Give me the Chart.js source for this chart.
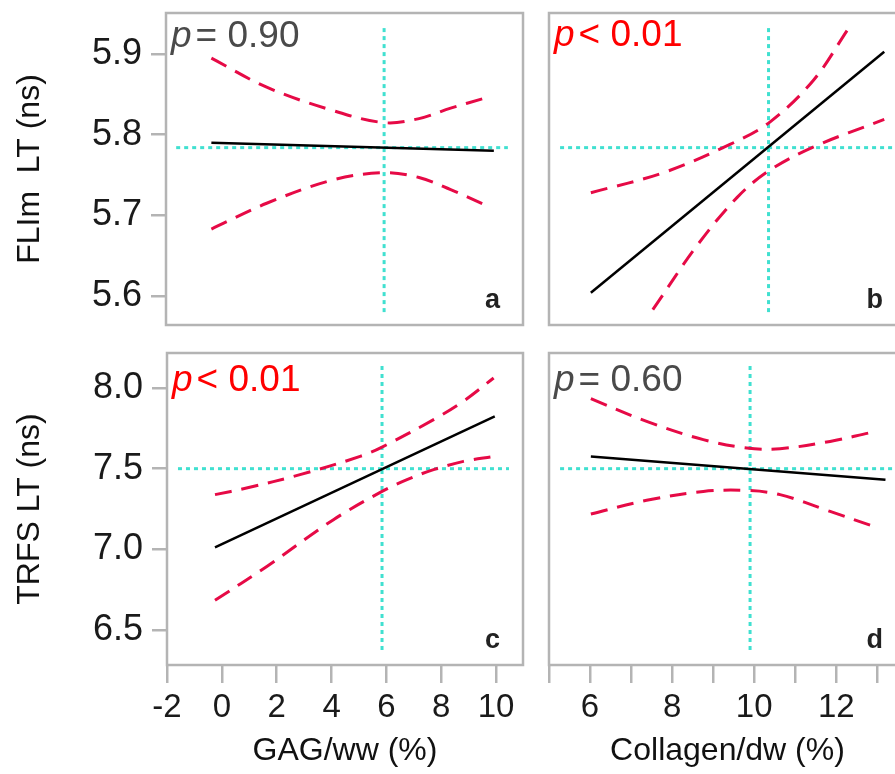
<!DOCTYPE html>
<html>
<head>
<meta charset="utf-8">
<script src="https://cdn.jsdelivr.net/npm/chart.js@4.4.1/dist/chart.umd.min.js"></script>
<style>
html,body{margin:0;padding:0;background:#fff;overflow:hidden}
body{width:895px;height:774px;position:relative}
canvas{position:absolute;left:0;top:0}
</style>
</head>
<body>
<canvas id="cA" width="920" height="774"></canvas>
<canvas id="cB" width="920" height="774"></canvas>
<canvas id="cC" width="920" height="774"></canvas>
<canvas id="cD" width="920" height="774"></canvas>
<script>
// tick labels
var yTicksFlim = [5.6, 5.7, 5.8, 5.9];
var yTicksTrfs = [6.5, 7.0, 7.5, 8.0];
var xTicksGag = [-2, 0, 2, 4, 6, 8, 10];
var xTicksCol = [5, 6, 7, 8, 9, 10, 11, 12, 13];
var xLabelsCol = [6, 8, 10, 12];

// p values
var pOps = ['=', '<', '<', '='];
var pNums = ['0.90', '0.01', '0.01', '0.60'];
var letters = ['a', 'b', 'c', 'd'];

// a : FLIm LT vs GAG/ww
var aFitX = [-0.35, 9.92];
var aFitY = [5.790, 5.780];
var aUpX = [-0.35, 1.66, 4.07, 5.93, 7.2, 8.35, 9.55];
var aUpY = [5.895, 5.859, 5.830, 5.815, 5.820, 5.833, 5.845];
var aLoX = [-0.35, 1.66, 4.07, 5.93, 7.2, 8.35, 9.6];
var aLoY = [5.683, 5.715, 5.744, 5.753, 5.747, 5.732, 5.713];
var aMean = [5.93, 5.784];
var aHx = [-1.63, 10.43];
var aVy = [5.58, 5.937];

// b : FLIm LT vs Collagen/dw
var bFitX = [6.02, 13.17];
var bFitY = [5.604, 5.903];
var bUpX = [6.02, 7.79, 9.41, 10.39, 11.45, 12.3];
var bUpY = [5.728, 5.753, 5.788, 5.816, 5.868, 5.932];
var bLoX = [7.53, 8.6, 9.58, 10.35, 11.45, 13.17];
var bLoY = [5.583, 5.662, 5.722, 5.755, 5.785, 5.819];
var bMean = [10.35, 5.784];
var bHx = [5.27, 13.7];
var bVy = [5.58, 5.937];

// c : TRFS LT vs GAG/ww
var cFitX = [-0.25, 9.95];
var cFitY = [7.012, 7.824];
var cUpX = [-0.25, 0.9, 2.85, 5.04, 5.84, 7.72, 8.8, 9.91];
var cUpY = [7.339, 7.38, 7.463, 7.576, 7.634, 7.804, 7.917, 8.062];
var cLoX = [-0.25, 1.64, 4.07, 5.84, 6.75, 7.72, 8.81, 9.91];
var cLoY = [6.684, 6.894, 7.184, 7.359, 7.432, 7.494, 7.545, 7.576];
var cMean = [5.84, 7.5];
var cHx = [-1.6, 10.47];
var cVy = [6.376, 8.14];

// d : TRFS LT vs Collagen/dw
var dFitX = [6.02, 13.2];
var dFitY = [7.576, 7.432];
var dUpX = [6.02, 7.38, 8.76, 9.82, 10.63, 11.85, 12.79];
var dUpY = [7.934, 7.793, 7.68, 7.628, 7.624, 7.669, 7.721];
var dLoX = [6.02, 7.38, 8.76, 9.82, 10.63, 11.85, 12.83];
var dLoY = [7.219, 7.304, 7.359, 7.365, 7.339, 7.235, 7.149];
var dMean = [9.9, 7.5];
var dHx = [5.27, 13.7];
var dVy = [6.376, 8.14];

var FONT = '"Liberation Sans", Arial, Helvetica, sans-serif';
var GREY = '#b4b4b4';
var RED = '#e60a46';
var CYAN = '#40e0d0';
Chart.defaults.font.family = FONT;
Chart.defaults.color = '#1a1a1a';

function pts(xs, ys) {
	return xs.map(function (x, i) { return {x: x, y: ys[i]}; });
}
function curve(xs, ys, color, dash) {
	return {data: pts(xs, ys), showLine: true, pointRadius: 0, borderColor: color,
		borderWidth: 3, borderDash: dash, fill: false, tension: 0.35};
}
function straight(xs, ys, color, width, dash) {
	return {data: pts(xs, ys), showLine: true, pointRadius: 0, borderColor: color,
		borderWidth: width, borderDash: dash, fill: false, tension: 0};
}

// frame, p value and panel letter
var panelPlugin = {
	id: 'panel',
	afterDraw: function (chart, args, o) {
		var ctx = chart.ctx, a = chart.chartArea;
		ctx.save();
		ctx.strokeStyle = GREY;
		ctx.lineWidth = 2.5;
		ctx.strokeRect(a.left, a.top, a.right - a.left, a.bottom - a.top);
		ctx.fillStyle = o.color;
		ctx.textAlign = 'left';
		ctx.textBaseline = 'alphabetic';
		var x = a.left + 5, y = a.top + o.dy;
		ctx.font = 'italic 37px ' + FONT;
		ctx.fillText('p', x, y);
		x += ctx.measureText('p').width + 4;
		ctx.font = '37px ' + FONT;
		ctx.fillText(pOps[o.i] + ' ' + pNums[o.i], x, y);
		ctx.fillStyle = '#222';
		ctx.font = 'bold 27px ' + FONT;
		ctx.textAlign = 'right';
		ctx.fillText(letters[o.i], a.right - 23, a.bottom - 17);
		ctx.restore();
	}
};

function tickGrid(len) {
	return {drawOnChartArea: false, drawTicks: true, tickLength: len, tickWidth: 2.5, tickColor: GREY, color: GREY, lineWidth: 2.5};
}
function noPad(sc) {
	sc.paddingTop = 0; sc.paddingBottom = 0; sc.paddingLeft = 0; sc.paddingRight = 0;
}

function makePanel(id, i, s) {
	var yScale = {type: 'linear', min: s.ymin, max: s.ymax, display: s.showY};
	if (s.showY) {
		yScale.afterBuildTicks = function (sc) { sc.ticks = s.yTicks.map(function (v) { return {value: v}; }); };
		yScale.afterFit = function (sc) { sc.width = s.yWidth; noPad(sc); };
		yScale.grid = tickGrid(15);
		yScale.border = {display: false};
		yScale.ticks = {font: {size: 36}, color: '#1a1a1a', padding: 9, callback: function (v) { return v.toFixed(1); }};
		yScale.title = {display: true, text: s.yTitle, font: {size: 32}, color: '#111', padding: 0};
	}
	var xScale = {type: 'linear', min: s.xmin, max: s.xmax, display: s.showX};
	if (s.showX) {
		xScale.afterBuildTicks = function (sc) { sc.ticks = s.xTicks.map(function (v) { return {value: v}; }); };
		xScale.afterFit = function (sc) { sc.height = 105; noPad(sc); };
		xScale.grid = tickGrid(18);
		xScale.border = {display: false};
		xScale.ticks = {font: {size: 33}, color: '#1a1a1a', padding: 5, autoSkip: false, maxRotation: 0,
			callback: function (v) { return s.xLabels.indexOf(v) >= 0 ? String(v) : ''; }};
		xScale.title = {display: true, text: s.xTitle, font: {size: 32}, color: '#111', padding: 0};
	}
	return new Chart(document.getElementById(id), {
		type: 'scatter',
		data: {datasets: [
			straight(s.fitX, s.fitY, '#000', 2.5, []),
			curve(s.upX, s.upY, RED, [17, 10]),
			curve(s.loX, s.loY, RED, [17, 10]),
			straight(s.hx, [s.mean[1], s.mean[1]], CYAN, 3, [4, 4]),
			straight([s.mean[0], s.mean[0]], s.vy, CYAN, 3, [4, 4])
		]},
		options: {
			responsive: false,
			animation: false,
			devicePixelRatio: 1,
			layout: {padding: s.pad},
			plugins: {legend: {display: false}, tooltip: {enabled: false},
				panel: {i: i, color: s.pColor, dy: s.dy}},
			scales: {x: xScale, y: yScale}
		},
		plugins: [panelPlugin]
	});
}

makePanel('cA', 0, {fitX: aFitX, fitY: aFitY, upX: aUpX, upY: aUpY, loX: aLoX, loY: aLoY,
	mean: aMean, hx: aHx, vy: aVy, xmin: -2, xmax: 10.98, ymin: 5.564, ymax: 5.951,
	showY: true, yTicks: yTicksFlim, yWidth: 155, yTitle: 'FLIm  LT (ns)', showX: false,
	pad: {left: 11, top: 13, right: 397, bottom: 449}, pColor: '#4a4a4a', dy: 34});

makePanel('cB', 1, {fitX: bFitX, fitY: bFitY, upX: bUpX, upY: bUpY, loX: bLoX, loY: bLoY,
	mean: bMean, hx: bHx, vy: bVy, xmin: 5, xmax: 13.7, ymin: 5.564, ymax: 5.951,
	showY: false, showX: false,
	pad: {left: 549, top: 13, right: 14, bottom: 449}, pColor: '#ff0000', dy: 33});

makePanel('cC', 2, {fitX: cFitX, fitY: cFitY, upX: cUpX, upY: cUpY, loX: cLoX, loY: cLoY,
	mean: cMean, hx: cHx, vy: cVy, xmin: -2, xmax: 10.98, ymin: 6.283, ymax: 8.217,
	showY: true, yTicks: yTicksTrfs, yWidth: 156, yTitle: 'TRFS LT (ns)',
	showX: true, xTicks: xTicksGag, xLabels: xTicksGag, xTitle: 'GAG/ww (%)',
	pad: {left: 11, top: 353, right: 397, bottom: 4}, pColor: '#ff0000', dy: 38});

makePanel('cD', 3, {fitX: dFitX, fitY: dFitY, upX: dUpX, upY: dUpY, loX: dLoX, loY: dLoY,
	mean: dMean, hx: dHx, vy: dVy, xmin: 5, xmax: 13.7, ymin: 6.283, ymax: 8.217,
	showY: false,
	showX: true, xTicks: xTicksCol, xLabels: xLabelsCol, xTitle: 'Collagen/dw (%)',
	pad: {left: 549, top: 353, right: 14, bottom: 4}, pColor: '#4a4a4a', dy: 38});
</script>
</body>
</html>
